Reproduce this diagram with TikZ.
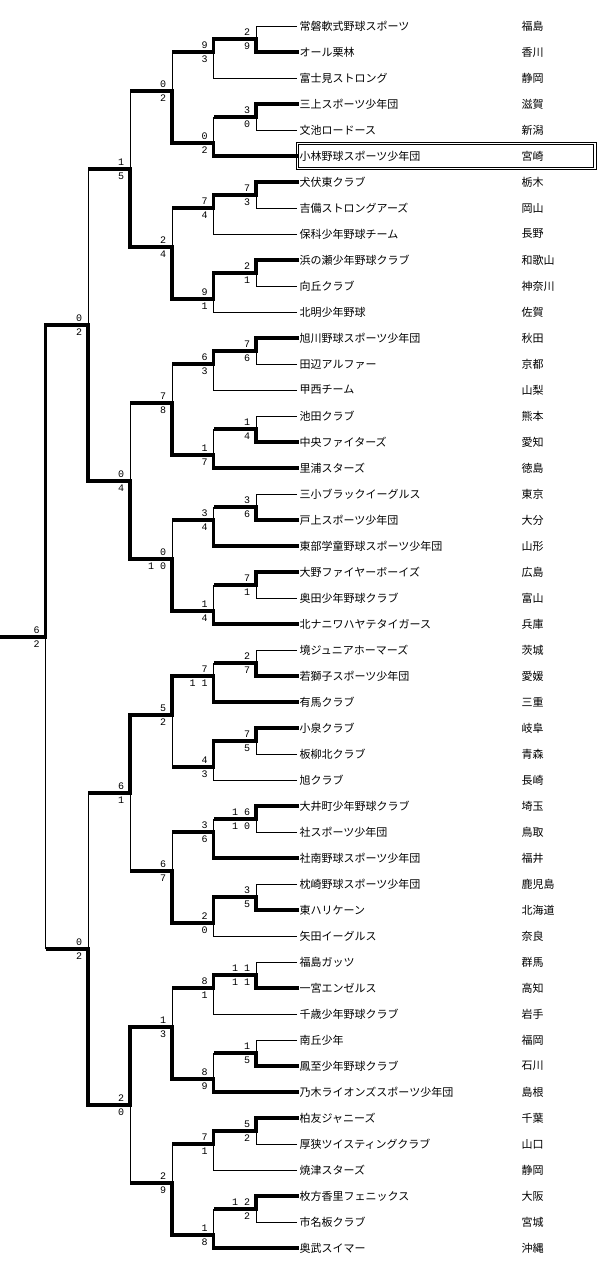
\documentclass[tikz,border=0pt]{standalone}
\usepackage{fontspec}
\usepackage{tikz}
\newfontfamily\jpfont{Noto Sans CJK JP}
\newfontfamily\scorefont{Liberation Mono}
\tikzset{
	entry/.style={anchor=west, inner xsep=2.5pt, inner ysep=0pt,
		font=\jpfont\fontsize{11}{13}\selectfont},
	score/.style={inner xsep=5.7pt, inner ysep=3.6pt,
		font=\scorefont\fontsize{10}{10}\selectfont},
	sc/.style 2 args={label={[score]above left:#1}, label={[score]below left:#2}},
	winline/.style={line width=3.4pt, line cap=rect},
	cutline/.style={line width=3.4pt},
	loseline/.style={line width=1pt},
	hilite/.style={line width=0.9pt}
}

\begin{document}
\begin{tikzpicture}[x=1pt, y=-1pt]
\useasboundingbox (0,0) rectangle (614,1288);

% teams
\node[entry] (t1) at (297,26) {常磐軟式野球スポーツ}; \node[entry] (p1) at (519,26) {福島};
\node[entry] (t2) at (297,52) {オール栗林}; \node[entry] (p2) at (519,52) {香川};
\node[entry] (t3) at (297,78) {富士見ストロング}; \node[entry] (p3) at (519,78) {静岡};
\node[entry] (t4) at (297,104) {三上スポーツ少年団}; \node[entry] (p4) at (519,104) {滋賀};
\node[entry] (t5) at (297,130) {文池ロードース}; \node[entry] (p5) at (519,130) {新潟};
\node[entry] (t6) at (297,156) {小林野球スポーツ少年団}; \node[entry] (p6) at (519,156) {宮崎};
\node[entry] (t7) at (297,182) {犬伏東クラブ}; \node[entry] (p7) at (519,182) {栃木};
\node[entry] (t8) at (297,208) {吉備ストロングアーズ}; \node[entry] (p8) at (519,208) {岡山};
\node[entry] (t9) at (297,234) {保科少年野球チーム}; \node[entry] (p9) at (519,234) {長野};
\node[entry] (t10) at (297,260) {浜の瀬少年野球クラブ}; \node[entry] (p10) at (519,260) {和歌山};
\node[entry] (t11) at (297,286) {向丘クラブ}; \node[entry] (p11) at (519,286) {神奈川};
\node[entry] (t12) at (297,312) {北明少年野球}; \node[entry] (p12) at (519,312) {佐賀};
\node[entry] (t13) at (297,338) {旭川野球スポーツ少年団}; \node[entry] (p13) at (519,338) {秋田};
\node[entry] (t14) at (297,364) {田辺アルファー}; \node[entry] (p14) at (519,364) {京都};
\node[entry] (t15) at (297,390) {甲西チーム}; \node[entry] (p15) at (519,390) {山梨};
\node[entry] (t16) at (297,416) {池田クラブ}; \node[entry] (p16) at (519,416) {熊本};
\node[entry] (t17) at (297,442) {中央ファイターズ}; \node[entry] (p17) at (519,442) {愛知};
\node[entry] (t18) at (297,468) {里浦スターズ}; \node[entry] (p18) at (519,468) {徳島};
\node[entry] (t19) at (297,494) {三小ブラックイーグルス}; \node[entry] (p19) at (519,494) {東京};
\node[entry] (t20) at (297,520) {戸上スポーツ少年団}; \node[entry] (p20) at (519,520) {大分};
\node[entry] (t21) at (297,546) {東部学童野球スポーツ少年団}; \node[entry] (p21) at (519,546) {山形};
\node[entry] (t22) at (297,572) {大野ファイヤーボーイズ}; \node[entry] (p22) at (519,572) {広島};
\node[entry] (t23) at (297,598) {奥田少年野球クラブ}; \node[entry] (p23) at (519,598) {富山};
\node[entry] (t24) at (297,624) {北ナニワハヤテタイガース}; \node[entry] (p24) at (519,624) {兵庫};
\node[entry] (t25) at (297,650) {境ジュニアホーマーズ}; \node[entry] (p25) at (519,650) {茨城};
\node[entry] (t26) at (297,676) {若獅子スポーツ少年団}; \node[entry] (p26) at (519,676) {愛媛};
\node[entry] (t27) at (297,702) {有馬クラブ}; \node[entry] (p27) at (519,702) {三重};
\node[entry] (t28) at (297,728) {小泉クラブ}; \node[entry] (p28) at (519,728) {岐阜};
\node[entry] (t29) at (297,754) {板柳北クラブ}; \node[entry] (p29) at (519,754) {青森};
\node[entry] (t30) at (297,780) {旭クラブ}; \node[entry] (p30) at (519,780) {長崎};
\node[entry] (t31) at (297,806) {大井町少年野球クラブ}; \node[entry] (p31) at (519,806) {埼玉};
\node[entry] (t32) at (297,832) {社スポーツ少年団}; \node[entry] (p32) at (519,832) {鳥取};
\node[entry] (t33) at (297,858) {社南野球スポーツ少年団}; \node[entry] (p33) at (519,858) {福井};
\node[entry] (t34) at (297,884) {枕崎野球スポーツ少年団}; \node[entry] (p34) at (519,884) {鹿児島};
\node[entry] (t35) at (297,910) {東ハリケーン}; \node[entry] (p35) at (519,910) {北海道};
\node[entry] (t36) at (297,936) {矢田イーグルス}; \node[entry] (p36) at (519,936) {奈良};
\node[entry] (t37) at (297,962) {福島ガッツ}; \node[entry] (p37) at (519,962) {群馬};
\node[entry] (t38) at (297,988) {一宮エンゼルス}; \node[entry] (p38) at (519,988) {高知};
\node[entry] (t39) at (297,1014) {千歳少年野球クラブ}; \node[entry] (p39) at (519,1014) {岩手};
\node[entry] (t40) at (297,1040) {南丘少年}; \node[entry] (p40) at (519,1040) {福岡};
\node[entry] (t41) at (297,1066) {鳳至少年野球クラブ}; \node[entry] (p41) at (519,1066) {石川};
\node[entry] (t42) at (297,1092) {乃木ライオンズスポーツ少年団}; \node[entry] (p42) at (519,1092) {島根};
\node[entry] (t43) at (297,1118) {柏友ジャニーズ}; \node[entry] (p43) at (519,1118) {千葉};
\node[entry] (t44) at (297,1144) {厚狭ツイスティングクラブ}; \node[entry] (p44) at (519,1144) {山口};
\node[entry] (t45) at (297,1170) {焼津スターズ}; \node[entry] (p45) at (519,1170) {静岡};
\node[entry] (t46) at (297,1196) {枚方香里フェニックス}; \node[entry] (p46) at (519,1196) {大阪};
\node[entry] (t47) at (297,1222) {市名板クラブ}; \node[entry] (p47) at (519,1222) {宮城};
\node[entry] (t48) at (297,1248) {奥武スイマー}; \node[entry] (p48) at (519,1248) {沖縄};

% first round
\coordinate[sc={2}{9}] (a1) at (256,39);
\coordinate[sc={3}{0}] (a2) at (256,117);
\coordinate[sc={7}{3}] (a3) at (256,195);
\coordinate[sc={2}{1}] (a4) at (256,273);
\coordinate[sc={7}{6}] (a5) at (256,351);
\coordinate[sc={1}{4}] (a6) at (256,429);
\coordinate[sc={3}{6}] (a7) at (256,507);
\coordinate[sc={7}{1}] (a8) at (256,585);
\coordinate[sc={2}{7}] (a9) at (256,663);
\coordinate[sc={7}{5}] (a10) at (256,741);
\coordinate[sc={1 6}{1 0}] (a11) at (256,819);
\coordinate[sc={3}{5}] (a12) at (256,897);
\coordinate[sc={1 1}{1 1}] (a13) at (256,975);
\coordinate[sc={1}{5}] (a14) at (256,1053);
\coordinate[sc={5}{2}] (a15) at (256,1131);
\coordinate[sc={1 2}{2}] (a16) at (256,1209);

% second round
\coordinate[sc={9}{3}] (b1) at (213.5,52);
\coordinate[sc={0}{2}] (b2) at (213.5,143);
\coordinate[sc={7}{4}] (b3) at (213.5,208);
\coordinate[sc={9}{1}] (b4) at (213.5,299);
\coordinate[sc={6}{3}] (b5) at (213.5,364);
\coordinate[sc={1}{7}] (b6) at (213.5,455);
\coordinate[sc={3}{4}] (b7) at (213.5,520);
\coordinate[sc={1}{4}] (b8) at (213.5,611);
\coordinate[sc={7}{1 1}] (b9) at (213.5,676);
\coordinate[sc={4}{3}] (b10) at (213.5,767);
\coordinate[sc={3}{6}] (b11) at (213.5,832);
\coordinate[sc={2}{0}] (b12) at (213.5,923);
\coordinate[sc={8}{1}] (b13) at (213.5,988);
\coordinate[sc={8}{9}] (b14) at (213.5,1079);
\coordinate[sc={7}{1}] (b15) at (213.5,1144);
\coordinate[sc={1}{8}] (b16) at (213.5,1235);

% third round and on
\coordinate[sc={0}{2}] (c1) at (172,91);
\coordinate[sc={2}{4}] (c2) at (172,247);
\coordinate[sc={7}{8}] (c3) at (172,403);
\coordinate[sc={0}{1 0}] (c4) at (172,559);
\coordinate[sc={5}{2}] (c5) at (172,715);
\coordinate[sc={6}{7}] (c6) at (172,871);
\coordinate[sc={1}{3}] (c7) at (172,1027);
\coordinate[sc={2}{9}] (c8) at (172,1183);
\coordinate[sc={1}{5}] (d1) at (130,169);
\coordinate[sc={0}{4}] (d2) at (130,481);
\coordinate[sc={6}{1}] (d3) at (130,793);
\coordinate[sc={2}{0}] (d4) at (130,1105);
\coordinate[sc={0}{2}] (e1) at (88,325);
\coordinate[sc={0}{2}] (e2) at (88,949);
\coordinate[sc={6}{2}] (f) at (45.5,637);
\coordinate (champ) at (0,637);

% team lines
\draw[loseline] (t1.west) -| (a1);
\draw[winline] (t2.west) -| (a1);
\draw[loseline] (t3.west) -| (b1);
\draw[winline] (t4.west) -| (a2);
\draw[loseline] (t5.west) -| (a2);
\draw[winline] (t6.west) -| (b2);
\draw[winline] (t7.west) -| (a3);
\draw[loseline] (t8.west) -| (a3);
\draw[loseline] (t9.west) -| (b3);
\draw[winline] (t10.west) -| (a4);
\draw[loseline] (t11.west) -| (a4);
\draw[loseline] (t12.west) -| (b4);
\draw[winline] (t13.west) -| (a5);
\draw[loseline] (t14.west) -| (a5);
\draw[loseline] (t15.west) -| (b5);
\draw[loseline] (t16.west) -| (a6);
\draw[winline] (t17.west) -| (a6);
\draw[winline] (t18.west) -| (b6);
\draw[loseline] (t19.west) -| (a7);
\draw[winline] (t20.west) -| (a7);
\draw[winline] (t21.west) -| (b7);
\draw[winline] (t22.west) -| (a8);
\draw[loseline] (t23.west) -| (a8);
\draw[winline] (t24.west) -| (b8);
\draw[loseline] (t25.west) -| (a9);
\draw[winline] (t26.west) -| (a9);
\draw[winline] (t27.west) -| (b9);
\draw[winline] (t28.west) -| (a10);
\draw[loseline] (t29.west) -| (a10);
\draw[loseline] (t30.west) -| (b10);
\draw[winline] (t31.west) -| (a11);
\draw[loseline] (t32.west) -| (a11);
\draw[winline] (t33.west) -| (b11);
\draw[loseline] (t34.west) -| (a12);
\draw[winline] (t35.west) -| (a12);
\draw[loseline] (t36.west) -| (b12);
\draw[loseline] (t37.west) -| (a13);
\draw[winline] (t38.west) -| (a13);
\draw[loseline] (t39.west) -| (b13);
\draw[loseline] (t40.west) -| (a14);
\draw[winline] (t41.west) -| (a14);
\draw[winline] (t42.west) -| (b14);
\draw[winline] (t43.west) -| (a15);
\draw[loseline] (t44.west) -| (a15);
\draw[loseline] (t45.west) -| (b15);
\draw[winline] (t46.west) -| (a16);
\draw[loseline] (t47.west) -| (a16);
\draw[winline] (t48.west) -| (b16);

% first round -> second round
\draw[winline] (a1) -| (b1);
\draw[cutline] (a2) -- (a2 -| b2); \draw[loseline] (a2 -| b2) -- (b2);
\draw[winline] (a3) -| (b3);
\draw[winline] (a4) -| (b4);
\draw[winline] (a5) -| (b5);
\draw[cutline] (a6) -- (a6 -| b6); \draw[loseline] (a6 -| b6) -- (b6);
\draw[cutline] (a7) -- (a7 -| b7); \draw[loseline] (a7 -| b7) -- (b7);
\draw[cutline] (a8) -- (a8 -| b8); \draw[loseline] (a8 -| b8) -- (b8);
\draw[cutline] (a9) -- (a9 -| b9); \draw[loseline] (a9 -| b9) -- (b9);
\draw[winline] (a10) -| (b10);
\draw[cutline] (a11) -- (a11 -| b11); \draw[loseline] (a11 -| b11) -- (b11);
\draw[winline] (a12) -| (b12);
\draw[winline] (a13) -| (b13);
\draw[cutline] (a14) -- (a14 -| b14); \draw[loseline] (a14 -| b14) -- (b14);
\draw[winline] (a15) -| (b15);
\draw[cutline] (a16) -- (a16 -| b16); \draw[loseline] (a16 -| b16) -- (b16);

% second round -> third round
\draw[cutline] (b1) -- (b1 -| c1); \draw[loseline] (b1 -| c1) -- (c1);
\draw[winline] (b2) -| (c1);
\draw[cutline] (b3) -- (b3 -| c2); \draw[loseline] (b3 -| c2) -- (c2);
\draw[winline] (b4) -| (c2);
\draw[cutline] (b5) -- (b5 -| c3); \draw[loseline] (b5 -| c3) -- (c3);
\draw[winline] (b6) -| (c3);
\draw[cutline] (b7) -- (b7 -| c4); \draw[loseline] (b7 -| c4) -- (c4);
\draw[winline] (b8) -| (c4);
\draw[winline] (b9) -| (c5);
\draw[cutline] (b10) -- (b10 -| c5); \draw[loseline] (b10 -| c5) -- (c5);
\draw[cutline] (b11) -- (b11 -| c6); \draw[loseline] (b11 -| c6) -- (c6);
\draw[winline] (b12) -| (c6);
\draw[cutline] (b13) -- (b13 -| c7); \draw[loseline] (b13 -| c7) -- (c7);
\draw[winline] (b14) -| (c7);
\draw[cutline] (b15) -- (b15 -| c8); \draw[loseline] (b15 -| c8) -- (c8);
\draw[winline] (b16) -| (c8);

% quarter finals and on
\draw[cutline] (c1) -- (c1 -| d1); \draw[loseline] (c1 -| d1) -- (d1);
\draw[winline] (c2) -| (d1);
\draw[cutline] (c3) -- (c3 -| d2); \draw[loseline] (c3 -| d2) -- (d2);
\draw[winline] (c4) -| (d2);
\draw[winline] (c5) -| (d3);
\draw[cutline] (c6) -- (c6 -| d3); \draw[loseline] (c6 -| d3) -- (d3);
\draw[winline] (c7) -| (d4);
\draw[cutline] (c8) -- (c8 -| d4); \draw[loseline] (c8 -| d4) -- (d4);
\draw[cutline] (d1) -- (d1 -| e1); \draw[loseline] (d1 -| e1) -- (e1);
\draw[winline] (d2) -| (e1);
\draw[cutline] (d3) -- (d3 -| e2); \draw[loseline] (d3 -| e2) -- (e2);
\draw[winline] (d4) -| (e2);
\draw[winline] (e1) -| (f);
\draw[cutline] (e2) -- (e2 -| f); \draw[loseline] (e2 -| f) -- (f);
\draw[winline] (f) -- (champ);

% highlighted team
\draw[hilite] (296,142) rectangle (596,169.5);
\draw[hilite] (298.5,144.5) rectangle (593.5,167);
\end{tikzpicture}
\end{document}
